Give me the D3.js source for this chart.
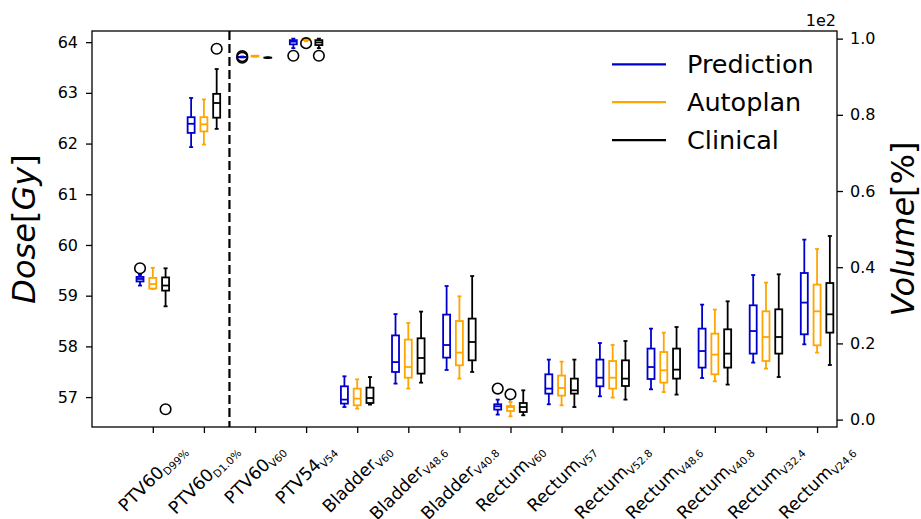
<!DOCTYPE html>
<html>
<head>
<meta charset="utf-8">
<style>
  body { margin: 0; background: #fff; }
  text { font-family: "DejaVu Sans", sans-serif; fill: #000; }
</style>
</head>
<body>
<script src="https://cdn.jsdelivr.net/npm/d3@7"></script>
<script>

var categories = ['PTV60', 'PTV60', 'PTV60', 'PTV54', 'Bladder', 'Bladder', 'Bladder',
  'Rectum', 'Rectum', 'Rectum', 'Rectum', 'Rectum', 'Rectum', 'Rectum'];
var subscripts = ['D99%', 'D1.0%', 'V60', 'V54', 'V60', 'V48.6', 'V40.8',
  'V60', 'V57', 'V52.8', 'V48.6', 'V40.8', 'V32.4', 'V24.6'];
// first two metrics are doses (left axis), the rest are volumes (right axis, x1e2 %)
var doseCount = 2;

var seriesNames = ['Prediction', 'Autoplan', 'Clinical'];

// [whisker low, q1, median, q3, whisker high]
var prediction = [
  [59.20, 59.28, 59.33, 59.37, 59.41],
  [61.93, 62.21, 62.39, 62.52, 62.90],
  [0.951, 0.951, 0.952, 0.952, 0.953],
  [0.975, 0.985, 0.992, 0.996, 1.000],
  [0.033, 0.042, 0.0525, 0.0874, 0.1137],
  [0.0945, 0.125, 0.151, 0.221, 0.277],
  [0.1302, 0.1627, 0.1958, 0.2756, 0.3507],
  [0.0131, 0.0262, 0.0349, 0.0402, 0.0525],
  [0.0402, 0.0682, 0.0814, 0.1189, 0.1575],
  [0.0612, 0.0874, 0.110, 0.1575, 0.201],
  [0.0795, 0.1066, 0.138, 0.1864, 0.2388],
  [0.1092, 0.1365, 0.180, 0.2388, 0.3018],
  [0.1496, 0.1732, 0.2325, 0.300, 0.3795],
  [0.1976, 0.2239, 0.3071, 0.3848, 0.4724]
];
var autoplan = [
  [59.13, 59.14, 59.23, 59.35, 59.55],
  [61.98, 62.24, 62.38, 62.52, 62.87],
  [0.953, 0.953, 0.954, 0.955, 0.955],
  [0.993, 0.996, 0.999, 1.000, 1.000],
  [0.0289, 0.0375, 0.0551, 0.0814, 0.1058],
  [0.0814, 0.110, 0.138, 0.210, 0.2535],
  [0.1076, 0.1425, 0.1759, 0.2588, 0.3236],
  [0.0087, 0.0226, 0.033, 0.0357, 0.0462],
  [0.0375, 0.063, 0.083, 0.1155, 0.1522],
  [0.0577, 0.0814, 0.110, 0.1538, 0.1958],
  [0.0724, 0.0971, 0.1294, 0.1774, 0.2283],
  [0.1005, 0.1189, 0.1706, 0.2257, 0.2887],
  [0.1339, 0.1538, 0.2168, 0.2843, 0.3596],
  [0.1759, 0.195, 0.2843, 0.3543, 0.4478]
];
var clinical = [
  [58.79, 59.10, 59.20, 59.36, 59.54],
  [62.29, 62.51, 62.80, 62.98, 63.47],
  [0.949, 0.950, 0.950, 0.950, 0.951],
  [0.975, 0.983, 0.990, 0.996, 1.000],
  [0.0394, 0.0436, 0.0567, 0.084, 0.1118],
  [0.097, 0.1207, 0.1617, 0.2134, 0.2835],
  [0.125, 0.1556, 0.2037, 0.2651, 0.3769],
  [0.0113, 0.020, 0.033, 0.0436, 0.0769],
  [0.033, 0.0682, 0.0769, 0.1076, 0.1575],
  [0.0525, 0.0882, 0.1076, 0.1556, 0.2063],
  [0.0656, 0.1076, 0.1312, 0.1864, 0.243],
  [0.0919, 0.1365, 0.1732, 0.237, 0.3105],
  [0.1118, 0.1732, 0.2168, 0.2895, 0.3814],
  [0.1433, 0.2283, 0.2764, 0.3585, 0.4819]
];

// outliers: [category index, value]
var predictionOutliers = [[0, 59.54], [2, 0.950], [2, 0.954], [3, 0.955], [7, 0.0814]];
var autoplanOutliers = [[3, 0.988], [7, 0.0664]];
var clinicalOutliers = [[0, 56.76], [1, 63.87], [3, 0.955]];

var doseTicks = [57, 58, 59, 60, 61, 62, 63, 64];
var volumeTicks = [0, 0.2, 0.4, 0.6, 0.8, 1.0];

var colors = ['#0000cd', '#ffa500', '#000000'];

var W = 921, H = 519;
var plot = { left: 92, right: 837, top: 31, bottom: 427 };

var svg = d3.select('body').append('svg')
  .attr('width', W)
  .attr('height', H);

var xScale = d3.scaleLinear()
  .domain([-1.19, 13.39])
  .range([plot.left, plot.right]);

var yDose = d3.scaleLinear()
  .domain([56.41, 64.22])
  .range([plot.bottom, plot.top]);

var yVol = d3.scaleLinear()
  .domain([-0.0194, 1.02])
  .range([plot.bottom, plot.top]);

var yFor = i => i < doseCount ? yDose : yVol;

var offsets = [-0.25, 0, 0.25];
var boxW = 7, capW = 4;

// separator between dose and volume metrics
svg.append('line')
  .attr('x1', xScale(doseCount - 0.5)).attr('x2', xScale(doseCount - 0.5))
  .attr('y1', plot.top).attr('y2', plot.bottom)
  .attr('stroke', '#000')
  .attr('stroke-width', 2.2)
  .attr('stroke-dasharray', '9,4');

var allSeries = [prediction, autoplan, clinical];
var allOutliers = [predictionOutliers, autoplanOutliers, clinicalOutliers];

allSeries.forEach(function(series, s) {
  var g = svg.append('g')
    .attr('stroke', colors[s])
    .attr('stroke-width', 1.8)
    .attr('fill', 'none');

  var items = g.selectAll('g')
    .data(series.map((d, i) => ({ i: i, v: d })))
    .join('g');

  var cx = d => xScale(d.i + offsets[s]);
  var y = (d, k) => yFor(d.i)(d.v[k]);

  // whiskers
  items.append('line')
    .attr('x1', cx).attr('x2', cx)
    .attr('y1', d => y(d, 0)).attr('y2', d => y(d, 1));
  items.append('line')
    .attr('x1', cx).attr('x2', cx)
    .attr('y1', d => y(d, 3)).attr('y2', d => y(d, 4));
  // caps
  [0, 4].forEach(function(k) {
    items.append('line')
      .attr('x1', d => cx(d) - capW / 2).attr('x2', d => cx(d) + capW / 2)
      .attr('y1', d => y(d, k)).attr('y2', d => y(d, k));
  });
  // box
  items.append('rect')
    .attr('x', d => cx(d) - boxW / 2)
    .attr('width', boxW)
    .attr('y', d => y(d, 3))
    .attr('height', d => Math.max(0.01, y(d, 1) - y(d, 3)));
  // median
  items.append('line')
    .attr('x1', d => cx(d) - boxW / 2).attr('x2', d => cx(d) + boxW / 2)
    .attr('y1', d => y(d, 2)).attr('y2', d => y(d, 2));
});

allOutliers.forEach(function(outs, s) {
  svg.append('g').selectAll('circle')
    .data(outs)
    .join('circle')
      .attr('cx', d => xScale(d[0] + offsets[s]))
      .attr('cy', d => yFor(d[0])(d[1]))
      .attr('r', 5.3)
      .attr('fill', 'none')
      .attr('stroke', '#000')
      .attr('stroke-width', 1.6);
});

// left axis
var leftAxis = svg.append('g')
  .attr('transform', `translate(${plot.left},0)`)
  .call(d3.axisLeft(yDose).tickValues(doseTicks).tickSize(6).tickPadding(8).tickSizeOuter(0));

// right axis
var rightAxis = svg.append('g')
  .attr('transform', `translate(${plot.right},0)`)
  .call(d3.axisRight(yVol).tickValues(volumeTicks).tickFormat(d3.format('.1f'))
    .tickSize(6).tickPadding(7).tickSizeOuter(0));

// bottom ticks
var bottomAxis = svg.append('g')
  .attr('transform', `translate(0,${plot.bottom})`)
  .call(d3.axisBottom(xScale).tickValues(d3.range(categories.length))
    .tickFormat('').tickSize(6).tickSizeOuter(0));

[leftAxis, rightAxis, bottomAxis].forEach(function(ax) {
  ax.select('.domain').remove();
  ax.selectAll('line').attr('stroke', '#000').attr('stroke-width', 1.3);
  ax.selectAll('text')
    .attr('font-family', '"DejaVu Sans", sans-serif')
    .attr('font-size', 16)
    .attr('fill', '#000');
});

// frame
svg.append('rect')
  .attr('x', plot.left).attr('y', plot.top)
  .attr('width', plot.right - plot.left)
  .attr('height', plot.bottom - plot.top)
  .attr('fill', 'none')
  .attr('stroke', '#000')
  .attr('stroke-width', 1.3);

// rotated category labels, centred under each tick
var labelTop = 440;
categories.forEach(function(name, i) {
  var t = svg.append('text')
    .attr('font-size', 17.5);
  t.append('tspan').text(name);
  t.append('tspan')
    .attr('font-size', 10.5)
    .attr('dy', 3.5)
    .text(subscripts[i]);
  var bb = t.node().getBBox();
  var cx = bb.x + bb.width / 2, cy = bb.y + bb.height / 2;
  var half = (bb.width + bb.height) / (2 * Math.SQRT2);
  t.attr('transform',
    `translate(${xScale(i)},${labelTop + half}) rotate(-45) translate(${-cx},${-cy})`);
});

// offset label of right axis
svg.append('text')
  .attr('x', plot.right - 1).attr('y', 25.5)
  .attr('text-anchor', 'end')
  .attr('font-size', 16)
  .text('1e2');

// axis titles
var leftTitle = svg.append('text')
  .attr('transform', `translate(35,${(plot.top + plot.bottom) / 2}) rotate(-90)`)
  .attr('text-anchor', 'middle')
  .attr('font-size', 32);
leftTitle.append('tspan').attr('font-style', 'italic').text('Dose');
leftTitle.append('tspan').text('[');
leftTitle.append('tspan').attr('font-style', 'italic').text('Gy');
leftTitle.append('tspan').text(']');

var rightTitle = svg.append('text')
  .attr('transform', `translate(914,${(plot.top + plot.bottom) / 2}) rotate(-90)`)
  .attr('text-anchor', 'middle')
  .attr('font-size', 32);
rightTitle.append('tspan').attr('font-style', 'italic').text('Volume');
rightTitle.append('tspan').text('[%]');

// legend
var legend = svg.append('g');
seriesNames.forEach(function(name, s) {
  var ly = 64.3 + s * 37.9;
  legend.append('line')
    .attr('x1', 612).attr('x2', 666)
    .attr('y1', ly).attr('y2', ly)
    .attr('stroke', colors[s])
    .attr('stroke-width', 2.2);
  legend.append('text')
    .attr('x', 687).attr('y', ly + 9)
    .attr('font-size', 25.5)
    .text(name);
});

</script>
</body>
</html>
